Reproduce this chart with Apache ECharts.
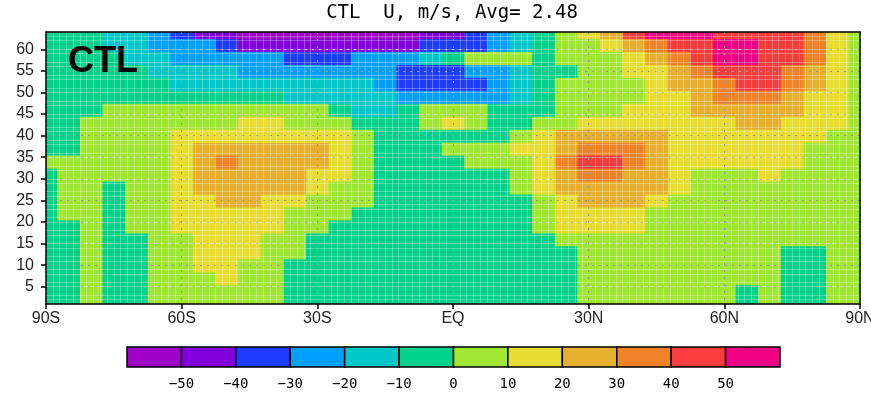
<!DOCTYPE html>
<html>
<head>
<meta charset="utf-8">
<script src="https://cdn.jsdelivr.net/npm/echarts@6/dist/echarts.min.js"></script>
<style>
  html, body { margin: 0; padding: 0; background: #fff; }
  #chart { width: 871px; height: 393px; }
</style>
</head>
<body>
<div id="chart"></div>
<script>
// latitude of each column (deg), model level of each row
const lats = [-90, -85, -80, -75, -70, -65, -60, -55, -50, -45, -40, -35, -30, -25, -20, -15, -10, -5,
  0, 5, 10, 15, 20, 25, 30, 35, 40, 45, 50, 55, 60, 65, 70, 75, 80, 85, 90]
const levs = [1, 4, 7, 10, 13, 16, 19, 22, 25, 28, 31, 34, 37, 40, 43, 46, 49, 52, 55, 58, 61, 64]

// zonal wind U (m/s), one array per level
const u01 = [-4, -5, 2, -5, -6, 3, 4, 5, 5, 4, 3, -2, -5, -6, -7, -7, -6, -6, -5, -5, -6, -6, -4, -2, 2, 3, 3, 4, 4, 3, 1, -1, 1, -3, -2, 2, 3]
const u04 = [-5, -6, 2, -6, -6, 3, 5, 6, 6, 5, 3, -2, -6, -7, -8, -8, -7, -7, -6, -6, -7, -6, -5, -2, 2, 3, 4, 4, 4, 3, 1, -1, 1, -4, -3, 2, 3]
const u07 = [-5, -5, 2, -6, -5, 4, 7, 9, 11, 8, 4, -1, -5, -7, -8, -8, -7, -7, -6, -6, -6, -6, -5, -2, 2, 4, 5, 5, 5, 4, 3, 2, 1, -4, -3, 2, 4]
const u10 = [-4, -4, 2, -5, -3, 4, 8, 12, 13, 9, 5, -1, -4, -6, -7, -8, -7, -7, -6, -6, -6, -5, -4, -1, 2, 4, 6, 6, 6, 5, 4, 2, 1, -3, -2, 2, 4]
const u13 = [-3, -3, 2, -4, -2, 4, 8, 13, 14, 11, 6, 2, -2, -5, -6, -7, -7, -6, -6, -6, -5, -4, -3, -1, 3, 5, 7, 7, 7, 6, 5, 3, 1, -2, -1, 3, 4]
const u16 = [-3, -2, 3, -3, -1, 5, 9, 14, 15, 12, 7, 3, -1, -4, -6, -7, -7, -6, -6, -6, -5, -3, -1, 2, 5, 7, 9, 9, 8, 7, 6, 4, 2, 1, 2, 4, 5]
const u19 = [-2, -1, 3, -2, 2, 6, 11, 15, 16, 14, 11, 6, 3, -2, -5, -6, -6, -6, -6, -5, -3, -1, 4, 11, 13, 13, 11, 8, 7, 6, 5, 4, 3, 3, 4, 5, 6]
const u22 = [-2, 2, 4, -1, 3, 7, 12, 16, 18, 17, 13, 8, 4, 1, -3, -5, -5, -5, -5, -4, -3, -1, 6, 13, 16, 16, 12, 9, 8, 7, 6, 5, 4, 4, 5, 6, 7]
const u25 = [-1, 3, 5, -1, 4, 8, 13, 18, 22, 21, 17, 13, 8, 4, 1, -3, -4, -4, -4, -3, -2, -1, 7, 16, 22, 23, 21, 15, 9, 8, 7, 6, 5, 5, 6, 7, 8]
const u28 = [-1, 3, 5, -1, 5, 9, 16, 21, 24, 25, 23, 21, 15, 8, 3, -2, -3, -3, -3, -2, -1, 3, 12, 21, 26, 28, 25, 21, 14, 9, 8, 8, 8, 7, 7, 7, 8]
const u31 = [-1, 3, 5, 6, 7, 9, 17, 22, 26, 27, 25, 22, 17, 11, 4, -2, -3, -3, -3, -2, -1, 4, 15, 25, 33, 34, 27, 22, 14, 9, 8, 9, 11, 8, 7, 7, 8]
const u34 = [2, 5, 6, 7, 8, 9, 17, 25, 31, 27, 26, 24, 21, 14, 6, -2, -3, -2, -1, 2, 5, 8, 17, 32, 42, 41, 33, 25, 17, 14, 12, 11, 12, 11, 9, 8, 8]
const u37 = [-2, -1, 4, 6, 8, 9, 16, 23, 26, 27, 26, 24, 21, 14, 6, -2, -3, -1, 2, 5, 8, 12, 17, 26, 37, 36, 31, 24, 17, 15, 14, 13, 14, 13, 9, 8, 8]
const u40 = [-2, -1, 3, 6, 8, 9, 13, 16, 18, 19, 19, 18, 16, 12, 6, -2, -3, -3, -2, -2, -1, 6, 16, 21, 24, 25, 23, 21, 17, 16, 16, 15, 16, 15, 12, 8, 7]
const u43 = [-3, -2, 2, 4, 5, 6, 7, 8, 9, 11, 11, 9, 7, 4, -2, -3, -1, 6, 12, 6, -1, -2, 3, 7, 11, 13, 14, 15, 16, 18, 19, 21, 21, 19, 16, 12, 7]
const u46 = [-4, -3, -1, 2, 3, 4, 5, 5, 6, 6, 5, 4, 2, -3, -11, -12, -6, 3, 6, 3, -3, -4, -2, 4, 6, 8, 12, 15, 18, 21, 24, 26, 25, 22, 17, 13, 7]
const u49 = [-5, -5, -4, -3, -3, -4, -5, -6, -7, -8, -9, -11, -13, -15, -17, -19, -22, -26, -28, -27, -22, -14, -4, 2, 5, 7, 9, 13, 17, 26, 32, 33, 31, 28, 18, 13, 7]
const u52 = [-6, -6, -5, -5, -6, -8, -11, -13, -14, -15, -16, -17, -18, -18, -19, -24, -32, -36, -37, -33, -26, -16, -6, 1, 5, 7, 9, 15, 24, 28, 36, 42, 41, 36, 26, 15, 7]
const u55 = [-6, -7, -7, -8, -9, -12, -15, -17, -19, -21, -22, -23, -24, -24, -25, -27, -33, -37, -35, -28, -23, -15, -7, -2, 4, 8, 13, 18, 26, 35, 42, 45, 44, 38, 28, 17, 8]
const u58 = [-7, -8, -9, -9, -13, -17, -22, -24, -26, -28, -29, -31, -32, -31, -29, -27, -23, -15, -6, 3, 6, 4, -3, 2, 6, 9, 16, 27, 37, 46, 52, 53, 47, 42, 34, 18, 8]
const u61 = [-7, -8, -9, -13, -18, -22, -26, -29, -34, -41, -44, -46, -47, -48, -47, -45, -42, -37, -34, -32, -24, -14, -5, 3, 8, 14, 25, 36, 44, 48, 54, 55, 48, 43, 35, 19, 9]
const u64 = [-7, -8, -9, -14, -19, -27, -36, -44, -49, -53, -56, -58, -59, -59, -58, -56, -52, -47, -42, -35, -25, -14, -4, 7, 16, 27, 44, 53, 56, 54, 49, 47, 46, 42, 34, 17, 8]
const uRows = [u01, u04, u07, u10, u13, u16, u19, u22, u25, u28, u31, u34, u37, u40, u43, u46, u49, u52, u55, u58, u61, u64]

const latTicks = [-90, -60, -30, 0, 30, 60, 90]
const latLabels = ['90S', '60S', '30S', 'EQ', '30N', '60N', '90N']
const levTicks = [5, 10, 15, 20, 25, 30, 35, 40, 45, 50, 55, 60]

// shading levels
const cbEdges = [-60, -50, -40, -30, -20, -10, 0, 10, 20, 30, 40, 50, 60]
const cbColors = ['#a000c8', '#8200dc', '#1e3cff', '#00a0ff', '#00c8c8', '#00d28c',
  '#a0e632', '#e6dc32', '#e6af2d', '#f08228', '#fa3c3c', '#f00082']
const cbLabels = [-50, -40, -30, -20, -10, 0, 10, 20, 30, 40, 50]

const latStep = 5
const levStep = 3

function colorOf(v) {
  let i = 0
  while (i < cbColors.length - 1 && v >= cbEdges[i + 1]) i++
  return cbColors[i]
}

const cells = []
levs.forEach((lev, j) => {
  lats.forEach((lat, i) => {
    cells.push([lat, lev, uRows[j][i]])
  })
})
const bins = cbColors.map((c, i) => [cbEdges[i], cbEdges[i + 1], i])

const chart = echarts.init(document.getElementById('chart'))
chart.setOption({
  animation: false,
  grid: [
    { left: 46, right: 11, top: 32, bottom: 89, outerBoundsMode: 'none' },
    { left: 127, width: 653, top: 347, height: 20, outerBoundsMode: 'none' }
  ],
  graphic: [
    {
      type: 'text', x: 452, y: 13, z: 100,
      style: { text: 'CTL  U, m/s, Avg= 2.48', font: '19px "DejaVu Sans Mono"', fill: '#000', align: 'center', verticalAlign: 'middle' }
    },
    {
      type: 'text', x: 68, y: 62, z: 100,
      style: { text: 'CTL', font: 'bold 36px "Liberation Sans"', fill: '#000', align: 'left', verticalAlign: 'middle' }
    }
  ],
  xAxis: [
    {
      gridIndex: 0, type: 'value', min: -90, max: 90, interval: 30, z: 3,
      axisLine: { onZero: false, lineStyle: { color: '#000', width: 1.5 } },
      axisTick: { length: 5, lineStyle: { color: '#000', width: 1.5 } },
      axisLabel: {
        margin: 7, fontFamily: 'Liberation Sans', fontSize: 16, color: '#222',
        formatter: v => latLabels[latTicks.indexOf(v)]
      },
      splitLine: { show: true, lineStyle: { color: '#9a9a9a', type: [2, 5], width: 1 } },
      minorTick: { show: false, splitNumber: 20 },
      minorSplitLine: { show: true, lineStyle: { color: 'rgba(255,255,255,0.28)', width: 1 } }
    },
    {
      gridIndex: 0, type: 'value', position: 'top', min: -90, max: 90, interval: 30, z: 3,
      axisLine: { onZero: false, lineStyle: { color: '#000', width: 1.5 } },
      axisTick: { show: false }, axisLabel: { show: false }, splitLine: { show: false }
    },
    {
      gridIndex: 1, type: 'value', min: -60, max: 60, interval: 10,
      axisLine: { show: false }, axisTick: { show: false }, splitLine: { show: false },
      axisLabel: {
        margin: 10, fontFamily: 'DejaVu Sans Mono', fontSize: 14, color: '#000',
        formatter: v => cbLabels.indexOf(v) < 0 ? '' : (v < 0 ? '\u2212' + (-v) : String(v))
      }
    }
  ],
  yAxis: [
    {
      gridIndex: 0, type: 'value', min: 1, max: 64, interval: 3, z: 3,
      axisLine: { onZero: false, lineStyle: { color: '#000', width: 1.5 } },
      axisTick: { length: 5, customValues: levTicks, lineStyle: { color: '#000', width: 1.5 } },
      axisLabel: { margin: 12, customValues: levTicks, fontFamily: 'Liberation Sans', fontSize: 16, color: '#222' },
      splitLine: { show: true, lineStyle: { color: '#9a9a9a', type: [2, 5], width: 1 } },
      minorTick: { show: false, splitNumber: 3 },
      minorSplitLine: { show: true, lineStyle: { color: 'rgba(255,255,255,0.28)', width: 1 } }
    },
    {
      gridIndex: 0, type: 'value', position: 'right', min: 1, max: 64, z: 3,
      axisLine: { onZero: false, lineStyle: { color: '#000', width: 1.5 } },
      axisTick: { show: false }, axisLabel: { show: false }, splitLine: { show: false }
    },
    { gridIndex: 1, type: 'value', min: 0, max: 1, show: false }
  ],
  series: [
    {
      type: 'custom',
      xAxisIndex: 0,
      yAxisIndex: 0,
      clip: true,
      encode: { x: 0, y: 1 },
      data: cells,
      renderItem: (params, api) => {
        const lat = api.value(0)
        const lev = api.value(1)
        const p0 = api.coord([lat - latStep / 2, lev + levStep / 2])
        const p1 = api.coord([lat + latStep / 2, lev - levStep / 2])
        return {
          type: 'rect',
          shape: { x: p0[0], y: p0[1], width: p1[0] - p0[0] + 0.6, height: p1[1] - p0[1] + 0.6 },
          style: { fill: colorOf(api.value(2)) }
        }
      }
    },
    {
      type: 'custom',
      xAxisIndex: 2,
      yAxisIndex: 2,
      encode: { x: [0, 1] },
      data: bins,
      renderItem: (params, api) => {
        const p0 = api.coord([api.value(0), 1])
        const p1 = api.coord([api.value(1), 0])
        return {
          type: 'rect',
          shape: { x: p0[0], y: p0[1], width: p1[0] - p0[0], height: p1[1] - p0[1] },
          style: { fill: cbColors[api.value(2)], stroke: '#000', lineWidth: 1.5 }
        }
      }
    }
  ]
})
</script>
</body>
</html>
